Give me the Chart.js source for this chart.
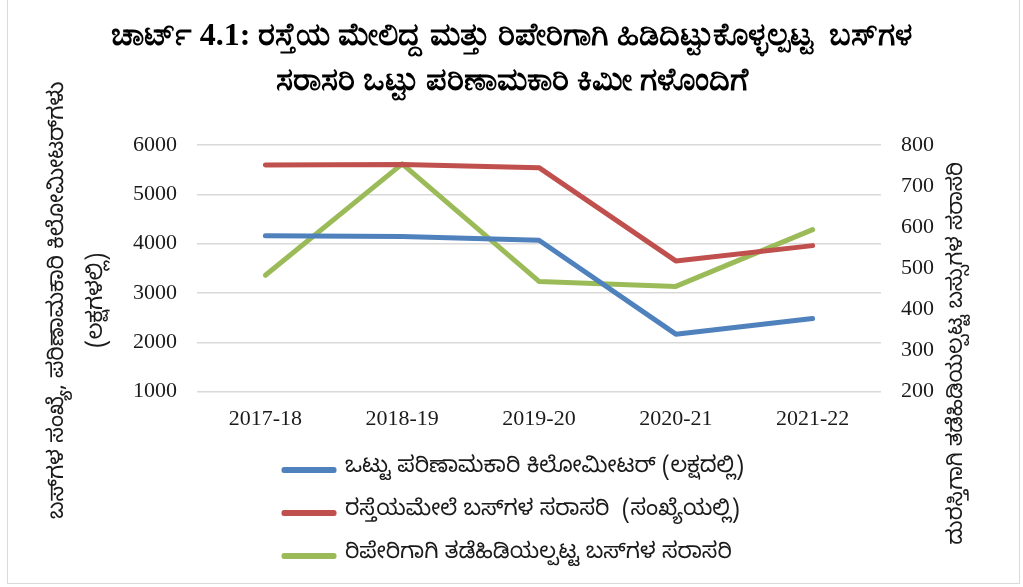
<!DOCTYPE html>
<html>
<head>
<meta charset="utf-8">
<script src="https://cdn.jsdelivr.net/npm/chart.js@4"></script>
<style>
    html, body { margin: 0; padding: 0; background: #fff; overflow: hidden; }
    #wrap { position: absolute; left: 0; top: 0; width: 1023px; height: 587px; }
    #frame {
        position: absolute; left: 7px; top: -10px; width: 1013px; height: 594px;
        border: 1px solid #d9d9d9; box-sizing: border-box; pointer-events: none;
    }
</style>
</head>
<body>
<div id="wrap"><canvas id="chart"></canvas></div>
<div id="frame"></div>
<script>
const years = ['2017-18', '2018-19', '2019-20', '2020-21', '2021-22']

const effectiveKm = [4160, 4145, 4070, 2165, 2480]
const busesOnRoad = [5595, 5605, 5540, 3650, 3960]
const busesInRepair = [483, 754, 468, 456, 594]

const leftTicks = { min: 1000, max: 6000, step: 1000 }
const rightTicks = { min: 200, max: 800, step: 100 }

const seriesNames = [
    'ಒಟ್ಟು ಪರಿಣಾಮಕಾರಿ ಕಿಲೋಮೀಟರ್ (ಲಕ್ಷದಲ್ಲಿ)',
    'ರಸ್ತೆಯಮೇಲೆ ಬಸ್‌ಗಳ ಸರಾಸರಿ  (ಸಂಖ್ಯೆಯಲ್ಲಿ)',
    'ರಿಪೇರಿಗಾಗಿ ತಡೆಹಿಡಿಯಲ್ಪಟ್ಟ ಬಸ್‌ಗಳ ಸರಾಸರಿ'
]

const titleLines = [
    'ಚಾರ್ಟ್ 4.1: ರಸ್ತೆಯ ಮೇಲಿದ್ದ ಮತ್ತು ರಿಪೇರಿಗಾಗಿ ಹಿಡಿದಿಟ್ಟುಕೊಳ್ಳಲ್ಪಟ್ಟ  ಬಸ್‌ಗಳ',
    'ಸರಾಸರಿ ಒಟ್ಟು ಪರಿಣಾಮಕಾರಿ ಕಿಮೀ ಗಳೊಂದಿಗೆ'
]
const leftTitle = ['ಬಸ್‌ಗಳ ಸಂಖ್ಯೆ, ಪರಿಣಾಮಕಾರಿ ಕಿಲೋಮೀಟರ್‌ಗಳು', '(ಲಕ್ಷಗಳಲ್ಲಿ)']
const rightTitle = 'ದುರಸ್ತಿಗಾಗಿ ತಡೆಹಿಡಿಯಲ್ಪಟ್ಟ ಬಸ್ಸುಗಳ ಸರಾಸರಿ'

const colors = ['#4f81bd', '#c0504d', '#9bbb59']
const serif = "'Liberation Serif', 'Times New Roman', serif"
const sans = "'Noto Sans Kannada', 'Noto Sans', 'Liberation Sans', sans-serif"
const textColor = '#1a1a1a'

// axis titles drawn by hand so they sit where the original has them
const axisTitles = {
    id: 'axisTitles',
    afterLayout(chart) {
        // legend rows start left-aligned under the plot, like the original
        const lg = chart.legend
        const w = lg.right - lg.left
        lg.left = chart.chartArea.left + 66
        lg.right = lg.left + w
    },
    afterDraw(chart) {
        const { ctx, chartArea } = chart
        const midY = (chartArea.top + chartArea.bottom) / 2
        ctx.save()
        ctx.fillStyle = textColor
        ctx.textAlign = 'center'
        ctx.textBaseline = 'middle'

        ctx.font = '22px ' + sans
        ctx.save()
        ctx.translate(chartArea.left - 136, midY + 32)
        ctx.rotate(-Math.PI / 2)
        ctx.fillText(leftTitle[0], 0, 0)
        ctx.restore()

        ctx.save()
        ctx.translate(chartArea.left - 97, midY + 32)
        ctx.rotate(-Math.PI / 2)
        ctx.fillText(leftTitle[1], 0, 0)
        ctx.restore()

        ctx.font = '21.5px ' + sans
        ctx.save()
        ctx.translate(chartArea.right + 79, midY + 85)
        ctx.rotate(-Math.PI / 2)
        ctx.fillText(rightTitle, 0, 0)
        ctx.restore()

        ctx.restore()
    }
}

const lineStyle = {
    borderWidth: 5,
    pointRadius: 0,
    pointHoverRadius: 0,
    tension: 0,
    borderCapStyle: 'round',
    borderJoinStyle: 'round',
    fill: false
}

const datasets = [
    { label: seriesNames[0], data: effectiveKm, yAxisID: 'y', borderColor: colors[0], backgroundColor: colors[0], ...lineStyle },
    { label: seriesNames[1], data: busesOnRoad, yAxisID: 'y', borderColor: colors[1], backgroundColor: colors[1], ...lineStyle },
    { label: seriesNames[2], data: busesInRepair, yAxisID: 'y1', borderColor: colors[2], backgroundColor: colors[2], ...lineStyle }
]

const plain = v => String(v)

new Chart(document.getElementById('chart').getContext('2d'), {
    type: 'line',
    data: { labels: years, datasets },
    plugins: [axisTitles],
    options: {
        responsive: true,
        maintainAspectRatio: false,
        animation: false,
        layout: { padding: { left: 0, right: 0, top: 0, bottom: 10 } },
        plugins: {
            title: {
                display: true,
                text: titleLines,
                color: '#000',
                font: { family: serif, size: 32, weight: 'bold', lineHeight: '45px' },
                padding: { top: 14, bottom: 41 }
            },
            legend: {
                position: 'bottom',
                align: 'start',
                fullSize: false,
                labels: {
                    color: textColor,
                    font: { family: sans, size: 22 },
                    boxWidth: 50,
                    boxHeight: 1,
                    padding: 21
                }
            },
            tooltip: { enabled: false }
        },
        scales: {
            x: {
                offset: true,
                grid: { display: false },
                border: { display: false },
                ticks: { color: textColor, font: { family: serif, size: 22 }, padding: 6 }
            },
            y: {
                position: 'left',
                min: leftTicks.min,
                max: leftTicks.max,
                afterFit: s => { s.width = 197 },
                ticks: { stepSize: leftTicks.step, callback: plain, color: textColor, font: { family: serif, size: 22 }, padding: 20 },
                grid: { color: '#d9d9d9', lineWidth: 1.5, drawTicks: false },
                border: { display: false }
            },
            y1: {
                position: 'right',
                min: rightTicks.min,
                max: rightTicks.max,
                afterFit: s => { s.width = 142 },
                ticks: { stepSize: rightTicks.step, callback: plain, color: textColor, font: { family: serif, size: 22 }, padding: 20 },
                grid: { drawOnChartArea: false, drawTicks: false },
                border: { display: false }
            }
        }
    }
})
</script>
</body>
</html>
